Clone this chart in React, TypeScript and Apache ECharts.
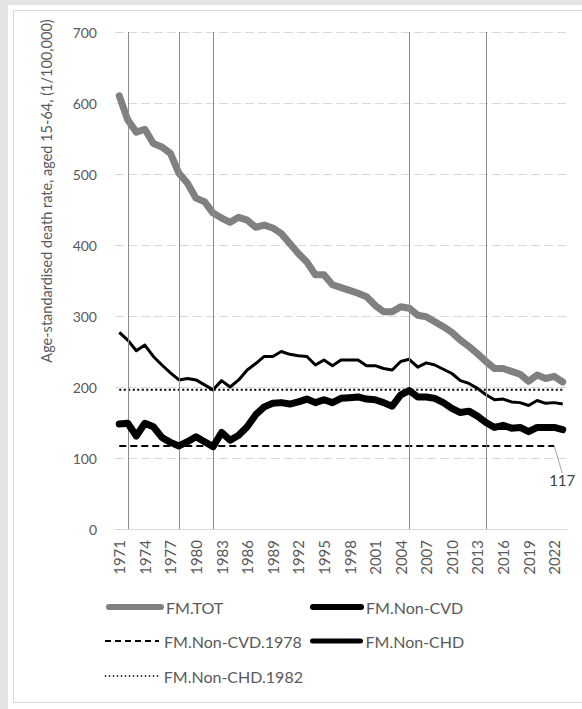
import React, { useEffect, useRef } from "react";
import * as echarts from "echarts";

// Years of observation
const years: string[] = [
  "1971", "1972", "1973", "1974", "1975", "1976", "1977", "1978", "1979", "1980",
  "1981", "1982", "1983", "1984", "1985", "1986", "1987", "1988", "1989", "1990",
  "1991", "1992", "1993", "1994", "1995", "1996", "1997", "1998", "1999", "2000",
  "2001", "2002", "2003", "2004", "2005", "2006", "2007", "2008", "2009", "2010",
  "2011", "2012", "2013", "2014", "2015", "2016", "2017", "2018", "2019", "2020",
  "2021", "2022", "2023",
];

// Age-standardised death rates, aged 15-64 (per 100,000)
const fmTot: number[] = [
  610, 576, 559, 563, 543, 538, 529, 501, 487, 466,
  461, 445, 438, 432, 439, 435, 425, 428, 424, 416,
  402, 388, 376, 358, 358, 344, 340, 336, 332, 327,
  315, 306, 306, 313, 311, 301, 299, 292, 285, 277,
  266, 257, 247, 236, 226, 226, 222, 218, 208, 217,
  212, 215, 207,
];

const fmNonCvd: number[] = [
  148, 149, 131, 149, 144, 129, 122, 117, 123, 130,
  123, 116, 136, 125, 132, 144, 161, 172, 177, 178,
  176, 179, 183, 178, 182, 178, 184, 185, 186, 183,
  182, 178, 173, 189, 195, 186, 186, 184, 178, 170,
  164, 166, 159, 150, 143, 146, 142, 143, 137, 143,
  143, 143, 140,
];

const fmNonChd: number[] = [
  277, 266, 251, 259, 243, 231, 220, 210, 212, 210,
  203, 196, 209, 200, 210, 224, 233, 243, 243, 250,
  246, 244, 243, 231, 238, 230, 238, 238, 238, 230,
  230, 226, 224, 236, 239, 228, 234, 231, 225, 219,
  209, 205, 198, 189, 182, 183, 179, 178, 174, 181,
  177, 178, 176,
];

// Reference levels: Non-CVD in 1978 and Non-CHD in 1982
const nonCvd1978Level = 117;
const nonChd1982Level = 196;
const nonCvd1978Years: string[] = years.slice(0, years.indexOf("2022") + 1);

// Marker years drawn as vertical rules
const markerYears: string[] = ["1972", "1978", "1982", "2005", "2014"];

const yTicks = { min: 0, max: 700, interval: 100 };

const FONT = "Lato, 'Liberation Sans', sans-serif";
const TEXT = "#595959";

export default function App() {
  const ref = useRef<HTMLDivElement>(null);

  useEffect(() => {
    if (!ref.current) return;
    const chart = echarts.init(ref.current, undefined, { renderer: "svg" });

    const lastRef = nonCvd1978Years.length - 1;
    const cvdRefData = years.map((y, i) => {
      if (i > lastRef) return null;
      if (i === lastRef) {
        return {
          value: nonCvd1978Level,
          symbol: "circle",
          symbolSize: 0.1,
          label: {
            show: true,
            formatter: String(nonCvd1978Level),
            position: "bottom",
            color: "#404040",
            fontSize: 15,
            fontFamily: FONT,
          },
        };
      }
      return nonCvd1978Level;
    });
    const chdRefData = years.map(() => nonChd1982Level);

    const legendBase = {
      orient: "horizontal",
      padding: 0,
      itemHeight: 12,
      itemGap: 0,
      itemStyle: { color: "rgba(0,0,0,0)", borderWidth: 0, opacity: 0 },
      textStyle: { color: TEXT, fontSize: 16, fontFamily: FONT },
      selectedMode: false,
    };

    chart.setOption({
      animation: false,
      backgroundColor: "transparent",
      grid: { left: 115, right: 15, top: 32, bottom: 180 },
      xAxis: {
        type: "category",
        data: years,
        boundaryGap: true,
        axisLine: { lineStyle: { color: "#d9d9d9", width: 1 } },
        axisTick: { show: false },
        axisLabel: {
          interval: 2,
          rotate: 90,
          margin: 11,
          color: TEXT,
          fontSize: 15,
          fontFamily: FONT,
        },
      },
      yAxis: {
        type: "value",
        min: yTicks.min,
        max: yTicks.max,
        interval: yTicks.interval,
        axisLine: { show: false },
        axisTick: { show: false },
        axisLabel: { margin: 18, color: TEXT, fontSize: 14, fontFamily: FONT },
        splitLine: { lineStyle: { color: "#d9d9d9", width: 1, type: [9, 4] } },
      },
      graphic: [
        {
          type: "text",
          x: 46,
          y: 191,
          rotation: Math.PI / 2,
          style: {
            text: "Age-standardised death rate, aged 15-64, (1/100,000)",
            fill: TEXT,
            fontSize: 14.5,
            fontFamily: FONT,
            align: "center",
            verticalAlign: "middle",
          },
        },
      ],
      legend: [
        { ...legendBase, left: 106, top: 599, itemWidth: 52, data: ["FM.TOT"], lineStyle: { width: 6, cap: "round" } },
        { ...legendBase, left: 310, top: 599, itemWidth: 48, data: ["FM.Non-CVD"], lineStyle: { width: 6, cap: "round" } },
        { ...legendBase, left: 104, top: 633, itemWidth: 54, data: ["FM.Non-CVD.1978"], lineStyle: { width: 2, type: [6, 4] } },
        { ...legendBase, left: 310, top: 633, itemWidth: 48, data: ["FM.Non-CHD"], lineStyle: { width: 5, cap: "round" } },
        { ...legendBase, left: 104, top: 668, itemWidth: 54, data: ["FM.Non-CHD.1982"], lineStyle: { width: 1.5, type: [1.5, 2.5] } },
      ],
      series: [
        {
          name: "FM.Non-CHD.1982",
          type: "line",
          data: chdRefData,
          symbol: "none",
          z: 2,
          lineStyle: { color: "#000", width: 2, type: [2, 2.5] },
          itemStyle: { color: "#000" },
          markLine: {
            silent: true,
            symbol: ["none", "none"],
            label: { show: false },
            lineStyle: { color: "#8c8c8c", width: 1, type: "solid" },
            data: markerYears.map((y) => ({ xAxis: y })),
          },
        },
        {
          name: "FM.Non-CVD.1978",
          type: "line",
          data: cvdRefData,
          symbol: "none",
          z: 3,
          lineStyle: { color: "#000", width: 2, type: [7, 4] },
          itemStyle: { color: "#000" },
          label: { show: false },
          labelLine: { show: true, lineStyle: { color: "#a6a6a6", width: 1 } },
          labelLayout: (p: any) => (p.dataIndex === lastRef ? { dx: 8, dy: 22 } : {}),
        },
        {
          name: "FM.TOT",
          type: "line",
          data: fmTot,
          symbol: "none",
          z: 4,
          lineStyle: { color: "#808080", width: 7, cap: "round", join: "round" },
          itemStyle: { color: "#808080" },
        },
        {
          name: "FM.Non-CHD",
          type: "line",
          data: fmNonChd,
          symbol: "none",
          z: 4,
          lineStyle: { color: "#000", width: 3, join: "round" },
          itemStyle: { color: "#000" },
        },
        {
          name: "FM.Non-CVD",
          type: "line",
          data: fmNonCvd,
          symbol: "none",
          z: 5,
          lineStyle: { color: "#000", width: 7, cap: "round", join: "round" },
          itemStyle: { color: "#000" },
        },
      ],
    });

    return () => chart.dispose();
  }, []);

  return (
    <div style={{ position: "fixed", left: 0, top: 0, width: 582, height: 709, background: "#e4e4e4", overflow: "hidden" }}>
      <div style={{ position: "absolute", left: 8, top: 5, right: 0, bottom: 0, background: "#ffffff" }} />
      <div
        style={{
          position: "absolute",
          left: 13,
          top: 10,
          width: 600,
          height: 691,
          border: "1px solid #d9d9d9",
          background: "#ffffff",
        }}
      />
      <div ref={ref} style={{ position: "absolute", left: 0, top: 0, width: 582, height: 709 }} />
    </div>
  );
}
